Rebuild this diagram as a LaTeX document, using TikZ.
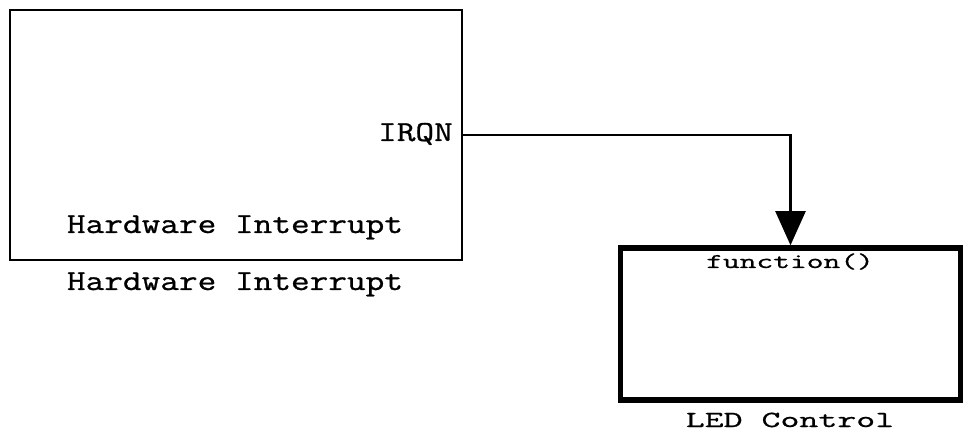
\documentclass[tikz,border=0pt]{standalone}
\usepackage{fontspec}
\usepackage{tikz}
\usetikzlibrary{arrows.meta,positioning}
\newfontfamily\blkfont[FakeStretch=1.25,FakeBold=0.9]{Latin Modern Mono}
\newfontfamily\fnfont[FakeStretch=1.55,FakeBold=0.9]{Latin Modern Mono}
\newfontfamily\namefont[FakeStretch=1.6,FakeBold=0.9]{Latin Modern Mono}

\begin{document}
\begin{tikzpicture}[
    x=1pt, y=-1pt,
    block/.style={rectangle,draw,inner sep=0pt},
    lbl/.style={inner sep=0pt,font=\blkfont\fontsize{29}{35}\selectfont},
    fnlbl/.style={inner sep=0pt,font=\fnfont\fontsize{21}{25}\selectfont},
    namelbl/.style={inner sep=0pt,font=\namefont\fontsize{23}{28}\selectfont},
    >={Triangle[width=30pt,length=34pt]}
  ]
  \useasboundingbox (0,0) rectangle (963,435);

  % blocks
  \node[block,line width=2.4pt,minimum width=452pt,minimum height=250pt] (hw) at (236,135) {};
  \node[block,line width=5.5pt,minimum width=340pt,minimum height=152pt] (led) at (790.5,324) {};

  % texts
  \node[lbl,anchor=base east] (irqn) at (453,141) {IRQN};
  \node[lbl,anchor=base] (hwin) at (235,233) {Hardware Interrupt};
  \node[lbl,anchor=base] (hwname) at (235,290) {Hardware Interrupt};
  \node[fnlbl,anchor=base] (fn) at (790,268) {function()};
  \node[namelbl,anchor=base] (ledname) at (790,427) {LED Control};

  % signal
  \draw[->,line width=2.2pt] (hw.east) -| (led.north);
\end{tikzpicture}
\end{document}
